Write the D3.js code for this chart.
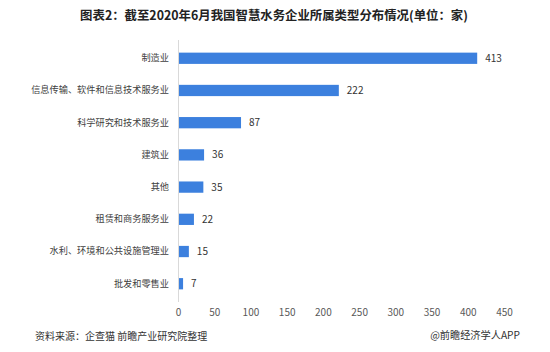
<!DOCTYPE html>
<html>
<head>
<meta charset="utf-8">
<script src="https://cdn.jsdelivr.net/npm/d3@7/dist/d3.min.js"></script>
<style>
  body { margin: 0; background: #fff; }
  text { font-family: "Noto Sans CJK SC", "Noto Sans", sans-serif; }
</style>
</head>
<body>
<script>
var categories = ["制造业", "信息传输、软件和信息技术服务业", "科学研究和技术服务业", "建筑业", "其他", "租赁和商务服务业", "水利、环境和公共设施管理业", "批发和零售业"];
var counts = [413, 222, 87, 36, 35, 22, 15, 7];
var xTicks = [0, 50, 100, 150, 200, 250, 300, 350, 400, 450];

var width = 550, height = 352;
var margin = {top: 42, right: 46, bottom: 52, left: 178};

var svg = d3.select("body").append("svg")
  .attr("width", width)
  .attr("height", height);

svg.append("text")
  .attr("x", 274).attr("y", 19.5)
  .attr("text-anchor", "middle")
  .style("font-size", "12.4px").style("font-weight", "bold").attr("fill", "#222")
  .text("图表2：截至2020年6月我国智慧水务企业所属类型分布情况(单位：家)");

var xScale = d3.scaleLinear().domain([0, 450]).range([margin.left, width - margin.right]);
var yScale = d3.scaleBand().domain(categories)
  .range([margin.top, height - margin.bottom]).paddingInner(0.65).paddingOuter(0.33);

var data = categories.map(function(c, i) { return {name: c, value: counts[i]}; });

svg.selectAll("rect.bar").data(data).enter().append("rect")
  .attr("class", "bar")
  .attr("x", xScale(0))
  .attr("y", function(d) { return yScale(d.name); })
  .attr("width", function(d) { return xScale(d.value) - xScale(0); })
  .attr("height", yScale.bandwidth())
  .attr("fill", "#3c80de");

svg.selectAll("text.val").data(data).enter().append("text")
  .attr("class", "val")
  .attr("x", function(d) { return xScale(d.value) + 8; })
  .attr("y", function(d) { return yScale(d.name) + yScale.bandwidth() / 2; })
  .attr("dy", "0.35em")
  .style("font-size", "10px").attr("fill", "#333")
  .text(function(d) { return d.value; });

var yAxis = svg.append("g")
  .attr("transform", "translate(" + margin.left + ",0)")
  .call(d3.axisLeft(yScale).tickSize(0).tickPadding(9));
yAxis.select(".domain").attr("stroke", "#d9d9d9")
  .attr("d", "M0.5," + (margin.top - 2) + "V" + (height - margin.bottom + 2));
yAxis.selectAll("text").style("font-size", "9.2px").attr("fill", "#404040");

var xAxis = svg.append("g")
  .attr("transform", "translate(0," + (height - margin.bottom) + ")")
  .call(d3.axisBottom(xScale).tickValues(xTicks).tickSize(0).tickPadding(9));
xAxis.select(".domain").remove();
xAxis.selectAll("text").style("font-size", "10px").attr("fill", "#595959");

svg.append("text")
  .attr("x", 35).attr("y", 339.5)
  .style("font-size", "10px").attr("fill", "#333")
  .text("资料来源：企查猫 前瞻产业研究院整理");

svg.append("text")
  .attr("x", 520).attr("y", 339)
  .attr("text-anchor", "end")
  .style("font-size", "10.2px").attr("fill", "#333")
  .text("@前瞻经济学人APP");
</script>
</body>
</html>
